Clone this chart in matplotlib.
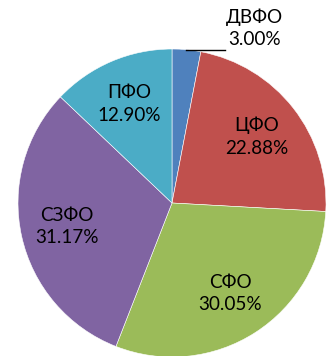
import numpy as np
import matplotlib
matplotlib.use("Agg")
import matplotlib.pyplot as plt

plt.rcParams['font.family'] = ['Lato', 'DejaVu Sans']

regions = ['ДВФО', 'ЦФО', 'СФО', 'СЗФО', 'ПФО']
shares = [3.00, 22.88, 30.05, 31.17, 12.90]
colors = ['#4F81BD', '#C0504D', '#9BBB59', '#8064A2', '#4BACC6']

fig = plt.figure(figsize=(3.29, 3.56), dpi=100)
# square axes so the pie keeps its shape
ax = fig.add_axes([18 / 329, -1 / 356, 308 / 329, 308 / 356])

wedges, _ = ax.pie(shares, colors=colors, startangle=90, counterclock=False,
                   radius=1.0, wedgeprops=dict(edgecolor='white', linewidth=0.4))

for w, name, val in zip(wedges, regions, shares):
    mid = np.deg2rad((w.theta1 + w.theta2) / 2)
    label = f'{name}\n{val:.2f}%'
    if val < 5:
        # small slice: label outside with a leader line
        x0, y0 = np.cos(mid), np.sin(mid)
        ax.plot([x0, 0.345], [y0, y0], color='black', lw=1.0, clip_on=False)
        ax.text(0.535, 1.135, label, ha='center', va='center', fontsize=13.6,
                linespacing=1.3, clip_on=False)
    else:
        r = 0.70
        ax.text(r * np.cos(mid), r * np.sin(mid), label, ha='center', va='center',
                fontsize=13.6, linespacing=1.4)

ax.set_xlim(-1, 1)
ax.set_ylim(-1, 1)
ax.set_aspect('equal')
ax.axis('off')

fig.savefig('out.png', dpi=100)
